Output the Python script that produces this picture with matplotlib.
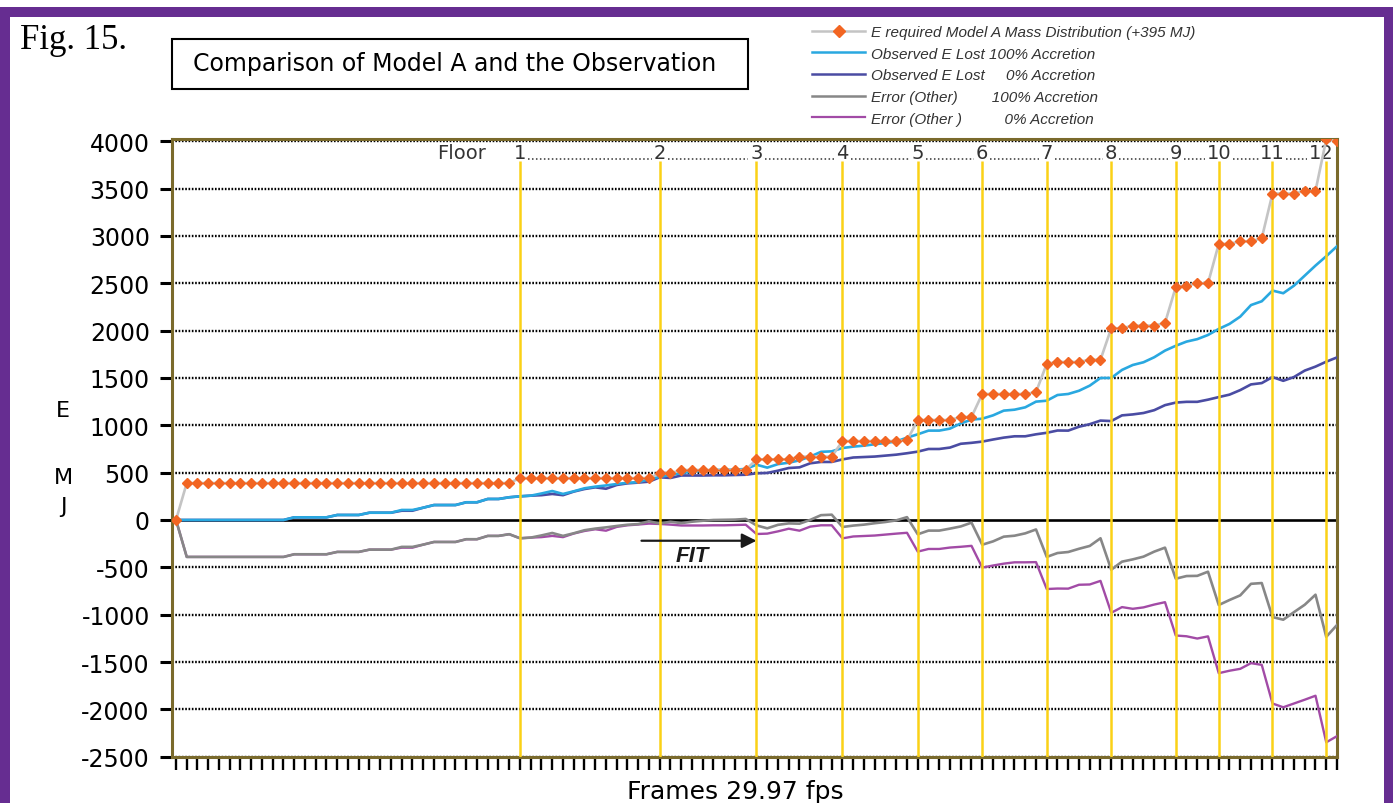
import numpy as np
import matplotlib
matplotlib.use('Agg')
import matplotlib.pyplot as plt
from matplotlib import font_manager
from matplotlib.lines import Line2D
from matplotlib.patches import Rectangle

plt.rcParams['font.family'] = 'DejaVu Sans'
plt.rcParams['axes.unicode_minus'] = False

# --- data (MJ per frame, 29.97 fps) ---
e_required = [0] + [390] * 31 + [443] * 13 + [493, 493] + [528] * 7 + \
    [641] * 4 + [669] * 4 + [834] * 6 + [840] + \
    [1056] * 4 + [1088, 1088] + [1331] * 5 + [1350] + \
    [1650, 1669, 1669, 1669, 1693, 1693] + \
    [2025, 2025, 2053, 2053, 2053, 2081] + \
    [2460, 2476, 2500, 2500] + [2916, 2916, 2944, 2944, 2976] + \
    [3448, 3448, 3448, 3476, 3476] + [4020, 4000]

obs_100 = [0] * 11 + [28] * 4 + [53] * 3 + [77] * 3 + [106] * 2 + [130] + \
    [158] * 3 + [187] * 2 + [222] * 2 + \
    [240, 250, 257, 280, 306, 275, 303, 335, 352, 365,
     380, 393, 400, 430, 455, 475, 495, 510, 520, 528,
     530, 532, 539, 584, 553, 590, 605, 630, 670, 720,
     725, 760, 775, 785, 800, 813, 830, 870, 905, 944,
     944, 965, 1020, 1060, 1070, 1105, 1155, 1165, 1190, 1250,
     1260, 1320, 1331, 1365, 1419, 1500, 1500, 1585, 1637, 1666,
     1719, 1789, 1840, 1884, 1910, 1954, 2018, 2071, 2148, 2270,
     2310, 2423, 2395, 2475, 2581, 2687, 2786, 2891]

obs_0 = [0] * 11 + [28] * 4 + [53] * 3 + [77] * 3 + [98] * 2 + [130] + \
    [158] * 3 + [187] * 2 + [222] * 2 + \
    [240, 250, 257, 262, 275, 262, 300, 327, 345, 330,
     370, 387, 395, 405, 451, 444, 470, 470, 470, 472,
     472, 475, 478, 493, 497, 521, 549, 556, 599, 613,
     613, 640, 660, 665, 670, 680, 690, 705, 722, 750,
     750, 765, 805, 815, 828, 850, 870, 884, 884, 905,
     921, 945, 944, 985, 1012, 1050, 1045, 1105, 1115, 1130,
     1160, 1213, 1240, 1248, 1248, 1271, 1298, 1324, 1372, 1432,
     1446, 1510, 1470, 1510, 1578, 1620, 1672, 1717]

err_100 = [0] + [-390] * 10 + [-362] * 4 + [-337] * 3 + [-313] * 3 + [-284] * 2 + \
    [-260] + [-232] * 3 + [-203] * 2 + [-168] * 2 + \
    [-150, -193, -186, -163, -137, -168, -140, -108, -91, -78,
     -63, -50, -43, -13, -38, -18, -33, -18, -8, 0,
     2, 4, 11, -57, -88, -51, -36, -39, 1, 51,
     56, -74, -59, -49, -34, -21, -4, 30, -151, -112,
     -112, -91, -68, -28, -261, -226, -176, -166, -141, -100,
     -390, -349, -338, -304, -274, -193, -525, -440, -416, -387,
     -334, -292, -620, -592, -590, -546, -898, -845, -796, -674,
     -666, -1025, -1053, -973, -895, -789, -1234, -1109]

err_0 = [0] + [-390] * 10 + [-362] * 4 + [-337] * 3 + [-313] * 3 + [-292] * 2 + \
    [-260] + [-232] * 3 + [-203] * 2 + [-168] * 2 + \
    [-150, -193, -186, -181, -168, -181, -143, -116, -98, -113,
     -73, -56, -48, -38, -42, -49, -58, -58, -58, -56,
     -56, -53, -50, -148, -144, -120, -92, -113, -70, -56,
     -56, -194, -174, -169, -164, -154, -144, -135, -334, -306,
     -306, -291, -283, -273, -503, -481, -461, -447, -447, -445,
     -729, -724, -725, -684, -681, -643, -980, -920, -938, -923,
     -893, -868, -1220, -1228, -1252, -1229, -1618, -1592, -1572, -1512,
     -1530, -1938, -1978, -1938, -1898, -1856, -2348, -2283]

floor_names = ['1', '2', '3', '4', '5', '6', '7', '8', '9', '10', '11', '12']
floor_frames = [32, 45, 54, 62, 69, 75, 81, 87, 93, 97, 102, 107]
yticks = list(range(-2500, 4001, 500))

frames = np.arange(len(e_required))

ORANGE = '#f26522'
LBLUE = '#29a8e0'
DBLUE = '#4a4ca3'
GRAY = '#878787'
PURPLE = '#a24ba6'
YELLOW = '#fbd116'
OLIVE = '#7a6a2c'

names = {f.name for f in font_manager.fontManager.ttflist}
legend_font = 'Liberation Sans Narrow' if 'Liberation Sans Narrow' in names else 'Liberation Sans'
legend_size = 13 if legend_font == 'Liberation Sans Narrow' else 11

W, H = 1400, 804
fig = plt.figure(figsize=(W / 100, H / 100), dpi=100)
ax = fig.add_axes([172 / W, 1 - 757.7 / H, (1337 - 172) / W, (757.7 - 139.9) / H])
ax.set_xlim(-0.372, 108)
ax.set_ylim(-2500, 4025)

# grid and zero line
for v in yticks:
    if v != 0:
        ax.axhline(v, color='black', lw=1.7, ls=(0, (0.7, 0.7)), zorder=1)
ax.axhline(0, color='black', lw=1.9, zorder=2)

ax.plot(frames, err_0, color=PURPLE, lw=1.7, zorder=3)
ax.plot(frames, err_100, color=GRAY, lw=1.9, zorder=4)
ax.plot(frames, obs_0, color=DBLUE, lw=1.9, zorder=5)
ax.plot(frames, obs_100, color=LBLUE, lw=1.9, zorder=6)
ax.vlines(floor_frames, -2500, 3795, color=YELLOW, lw=1.8, zorder=7)
ax.plot(frames, e_required, color='#c4c4c4', lw=1.9, marker='D', ms=5.5,
        mfc=ORANGE, mec=ORANGE, zorder=8)

# floor labels with dotted leaders
ax.text(26.6, 3886, 'Floor', ha='center', va='center', fontsize=14, color='#333333')
half = []
for fx, nm in zip(floor_frames, floor_names):
    xc = fx - 0.5 if nm == '12' else fx
    ax.text(xc, 3886, nm, ha='center', va='center', fontsize=14, color='#333333')
    half.append((xc, 0.75 if len(nm) == 1 else 1.3))
for (x1, h1), (x2, h2) in zip(half[:-1], half[1:]):
    ax.plot([x1 + h1, x2 - h2], [3815, 3815], color='#333333', lw=1.1,
            ls=(0, (1, 1.6)), zorder=9)

# FIT arrow
ax.annotate('', xy=(54.0, -219), xytext=(43.3, -219),
            arrowprops=dict(arrowstyle='-|>', color='#1a1a1a', lw=1.6,
                            mutation_scale=22, shrinkA=0, shrinkB=0), zorder=10)
ax.text(48.0, -380, 'FIT', ha='center', va='center', fontsize=16,
        fontweight='bold', fontstyle='italic', family='Liberation Sans', color='#1a1a1a')

ax.set_yticks(yticks)
ax.set_yticklabels([str(v) for v in yticks])
ax.set_xticks(frames)
ax.tick_params(axis='y', length=9, width=2.2, color='black', labelsize=17, pad=7)
ax.tick_params(axis='x', length=9, width=1.7, color='black', labelbottom=False)
for s in ax.spines.values():
    s.set_color(OLIVE)
    s.set_linewidth(2.2)

# surrounding text
fig.text(20 / W, 1 - 49 / H, 'Fig. 15.', family='Liberation Serif', fontsize=25, va='baseline')
fig.add_artist(Rectangle((172 / W, 1 - 90 / H), (748 - 172) / W, 50 / H,
                         transform=fig.transFigure, fill=False, ec='black', lw=1.5))
fig.text(455 / W, 1 - 64 / H, 'Comparison of Model A and the Observation',
         ha='center', va='center', fontsize=17)
fig.text(63 / W, 1 - 411 / H, 'E', ha='center', va='center', fontsize=16)
fig.text(63 / W, 1 - 478 / H, 'M', ha='center', va='center', fontsize=16)
fig.text(63 / W, 1 - 507 / H, 'J', ha='center', va='center', fontsize=16)
fig.text(735 / W, 1 - 792 / H, 'Frames 29.97 fps', ha='center', va='center', fontsize=18)

# purple border
for x0, y0, w, h in [(0, 0, 10, 796), (0, 786, 1393, 10), (1384, 0, 9, 796)]:
    fig.add_artist(Rectangle((x0 / W, y0 / H), w / W, h / H, transform=fig.transFigure,
                             color='#662d91', lw=0))

handles = [
    Line2D([], [], color='#c4c4c4', lw=1.8, marker='D', ms=6, mfc=ORANGE, mec=ORANGE),
    Line2D([], [], color=LBLUE, lw=1.8),
    Line2D([], [], color=DBLUE, lw=1.8),
    Line2D([], [], color=GRAY, lw=1.8),
    Line2D([], [], color=PURPLE, lw=1.6),
]
labels = [
    'E required Model A Mass Distribution (+395 MJ)',
    'Observed E Lost 100% Accretion',
    'Observed E Lost     0% Accretion',
    'Error (Other)        100% Accretion',
    'Error (Other )          0% Accretion',
]
fs_px = legend_size * 100 / 72
fig.legend(handles, labels, loc='upper left', bbox_to_anchor=(812 / W, 1 - 26 / H),
           frameon=False, borderpad=0, borderaxespad=0, handlelength=53 / fs_px,
           handletextpad=6 / fs_px, labelspacing=0.5, numpoints=1,
           prop={'family': legend_font, 'style': 'italic', 'size': legend_size},
           labelcolor='#333333')

fig.savefig('out.png', dpi=100)
